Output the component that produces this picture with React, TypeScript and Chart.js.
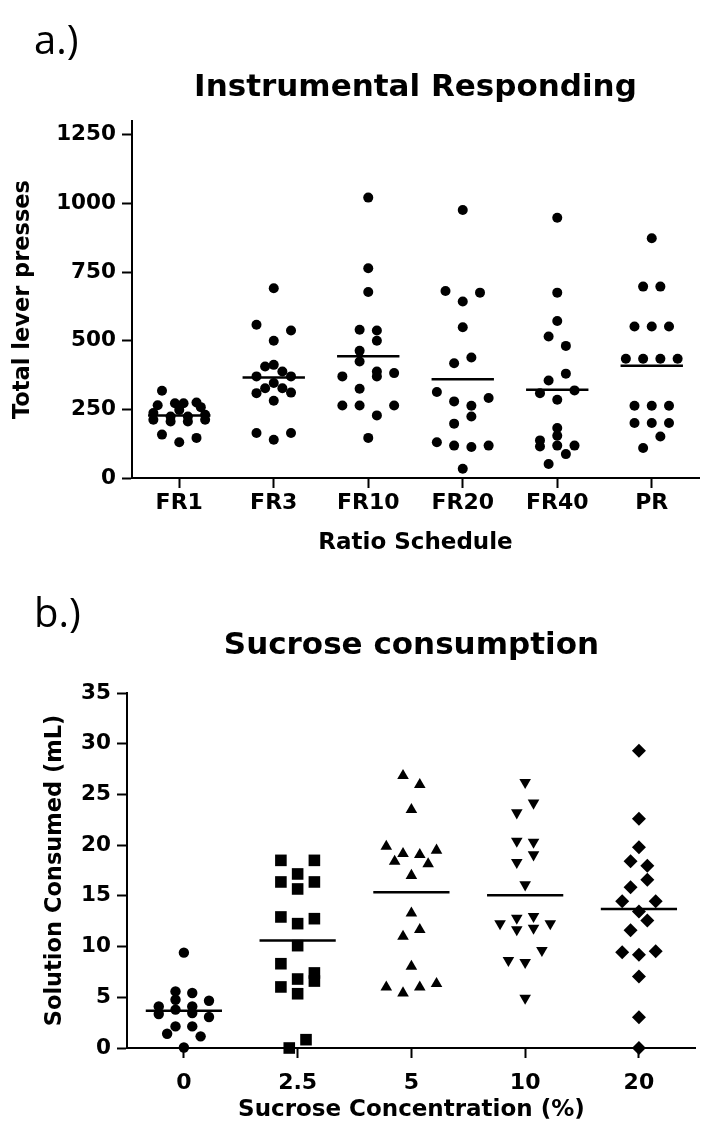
import React, { useEffect, useRef } from "react";
import { Chart, registerables } from "chart.js";

Chart.register(...registerables);

// ---------- Panel a: Instrumental Responding ----------
const scheduleLabels = ["FR1", "FR3", "FR10", "FR20", "FR40", "PR"];
const leverTicks = [0, 250, 500, 750, 1000, 1250];

const fr1 = [318, 265, 272, 272, 275, 258, 237, 248, 230, 224, 224, 212, 206, 206, 212, 158, 146, 130];
const fr3 = [691, 558, 537, 500, 412, 406, 388, 370, 370, 346, 327, 327, 309, 311, 281, 164, 164, 139];
const fr10 = [1021, 764, 677, 540, 537, 500, 463, 424, 388, 370, 382, 370, 325, 264, 264, 264, 228, 146];
const fr20 = [976, 681, 675, 643, 549, 439, 418, 313, 291, 279, 263, 224, 198, 130, 118, 113, 118, 34];
const fr40 = [948, 675, 572, 515, 481, 380, 355, 319, 309, 285, 182, 154, 137, 115, 118, 118, 87, 51];
const prValues = [873, 697, 697, 552, 552, 552, 434, 434, 434, 434, 263, 263, 263, 200, 200, 200, 151, 109];
const leverMeans = [228, 366, 443, 360, 321, 409];

// column slot of each dot within its group (dot-plot spread)
const fr1Slots = [-2, -2.5, -0.5, 0.5, 2, 2.5, -3, 0, 3, -1, 1, -3, -1, 1, 3, -2, 2, 0];
const fr3Slots = [0, -2, 2, 0, 0, -1, 1, -2, 2, 0, -1, 1, -2, 2, 0, -2, 2, 0];
const fr10Slots = [0, 0, 0, -1, 1, 1, -1, -1, 1, 1, 3, -3, -1, -3, -1, 3, 1, 0];
const fr20Slots = [0, -2, 2, 0, 0, 1, -1, -3, 3, -1, 1, 1, -1, -3, -1, 1, 3, 0];
const fr40Slots = [0, 0, 0, -1, 1, 1, -1, 2, -2, 0, 0, 0, -2, -2, 0, 2, 1, -1];
const prSlots = [0, -1, 1, -2, 0, 2, -3, -1, 1, 3, -2, 0, 2, -2, 0, 2, 1, -1];

// ---------- Panel b: Sucrose consumption ----------
const concLabels = ["0", "2.5", "5", "10", "20"];
const mlTicks = [0, 5, 10, 15, 20, 25, 30, 35];

const conc0 = [9.4, 5.58, 5.42, 4.76, 4.66, 4.1, 3.78, 4.1, 3.35, 3.45, 3.06, 2.13, 2.13, 1.41, 1.15, 0.05];
const conc2_5 = [18.5, 18.5, 17.16, 16.37, 16.37, 15.68, 12.92, 12.75, 12.26, 10.09, 8.31, 7.4, 6.6, 6.8, 6.02, 5.35, 0.82, 0.0];
const conc5 = [26.85, 25.97, 23.5, 19.88, 19.16, 19.06, 19.49, 18.4, 18.15, 17.0, 13.3, 11.0, 11.67, 8.05, 6.0, 5.42, 6.0, 6.34];
const conc10 = [26.2, 24.16, 23.2, 20.4, 20.3, 19.06, 18.3, 16.1, 12.26, 12.8, 12.98, 12.26, 11.67, 11.83, 9.63, 8.64, 8.44, 4.93];
const conc20 = [29.3, 22.6, 19.8, 18.4, 17.98, 16.6, 15.84, 14.46, 14.46, 13.47, 12.58, 11.6, 9.43, 9.2, 9.53, 7.06, 3.02, 0.0];
const mlMeans = [3.68, 10.6, 15.35, 15.05, 13.7];

const conc0Slots = [0, -1, 1, -1, 3, -3, -1, 1, -3, 1, 3, -1, 1, -2, 2, 0];
const conc2_5Slots = [-2, 2, 0, -2, 2, 0, -2, 2, 0, 0, -2, 2, 2, 0, -2, 0, 1, -1];
const conc5Slots = [-1, 1, 0, -3, -1, 1, 3, -2, 2, 0, 0, -1, 1, 0, -3, -1, 1, 3];
const conc10Slots = [0, 1, -1, -1, 1, 1, -1, 0, -3, -1, 1, 3, -1, 1, 2, -2, 0, 0];
const conc20Slots = [0, 0, 0, -1, 1, 1, -1, -2, 2, 0, 1, -1, -2, 0, 2, 0, 0, 0];

const FONT = "'DejaVu Sans', sans-serif";
const BLACK = "#000000";

type MarkStyle = { pointStyle: string; radius: number; rotation: number };

function groupDatasets(
  groups: number[][],
  slots: number[][],
  means: number[],
  step: number,
  halfWidth: number,
  marks: MarkStyle[]
) {
  const dots = groups.map((vals, gi) => ({
    type: "scatter" as const,
    data: vals.map((v, k) => ({ x: gi + slots[gi][k] * step, y: v })),
    pointStyle: marks[gi].pointStyle,
    pointRadius: marks[gi].radius,
    rotation: marks[gi].rotation,
    backgroundColor: BLACK,
    borderColor: BLACK,
    borderWidth: 0,
    pointHoverRadius: marks[gi].radius,
    clip: false as const,
    order: 2,
  }));
  const lines = means.map((m, gi) => ({
    type: "scatter" as const,
    data: [
      { x: gi - halfWidth, y: m },
      { x: gi + halfWidth, y: m },
    ],
    showLine: true,
    borderColor: BLACK,
    borderWidth: 2.5,
    pointRadius: 0,
    pointHoverRadius: 0,
    clip: false as const,
    order: 1,
  }));
  return [...dots, ...lines];
}

function axisCommon() {
  return {
    grid: {
      display: true,
      drawOnChartArea: false,
      drawTicks: true,
      tickLength: 10,
      tickWidth: 2,
      color: BLACK,
    },
    border: { display: true, color: BLACK, width: 2 },
  };
}

function makeConfig(opts: {
  labels: string[];
  yTicks: number[];
  yMax: number;
  datasets: any[];
  title: string;
  titlePad: { top: number; bottom: number };
  xTitle: string;
  xTitlePadBottom: number;
  xTickPad: number;
  yTitle: string;
  yTitlePadTop: number;
  yWidth: number;
  xHeight: number;
  padRight: number;
}) {
  const n = opts.labels.length;
  return {
    type: "scatter" as const,
    data: { datasets: opts.datasets },
    options: {
      animation: false as const,
      responsive: false,
      maintainAspectRatio: false,
      events: [],
      layout: { padding: { left: 0, right: opts.padRight, top: 0, bottom: 0 } },
      plugins: {
        legend: { display: false },
        tooltip: { enabled: false },
        title: {
          display: true,
          fullSize: false,
          text: opts.title,
          color: BLACK,
          font: { family: FONT, size: 31, weight: "bold" as const },
          padding: opts.titlePad,
        },
      },
      scales: {
        x: {
          type: "linear" as const,
          min: -0.5,
          max: n - 0.5,
          afterBuildTicks: (s: any) => {
            s.ticks = opts.labels.map((_, i) => ({ value: i }));
          },
          afterFit: (s: any) => {
            s.height = opts.xHeight;
          },
          ticks: {
            autoSkip: false,
            maxRotation: 0,
            padding: opts.xTickPad,
            color: BLACK,
            font: { family: FONT, size: 22, weight: "bold" as const },
            callback: (v: any) => opts.labels[Math.round(Number(v))] ?? "",
          },
          title: {
            display: true,
            text: opts.xTitle,
            color: BLACK,
            font: { family: FONT, size: 23, weight: "bold" as const },
            padding: { top: 0, bottom: opts.xTitlePadBottom },
          },
          ...axisCommon(),
        },
        y: {
          type: "linear" as const,
          min: 0,
          max: opts.yMax,
          afterBuildTicks: (s: any) => {
            s.ticks = opts.yTicks.map((v) => ({ value: v }));
          },
          afterFit: (s: any) => {
            s.width = opts.yWidth;
          },
          ticks: {
            padding: 6,
            color: BLACK,
            font: { family: FONT, size: 21.5, weight: "bold" as const },
            callback: (v: any) => String(v),
          },
          title: {
            display: true,
            text: opts.yTitle,
            color: BLACK,
            font: { family: FONT, size: 22.5, weight: "bold" as const },
            padding: { top: opts.yTitlePadTop, bottom: 0 },
          },
          ...axisCommon(),
        },
      },
    },
  };
}

function ChartCanvas({ config, width, height, top }: { config: any; width: number; height: number; top: number }) {
  const ref = useRef<HTMLCanvasElement | null>(null);
  useEffect(() => {
    if (!ref.current) return;
    const chart = new Chart(ref.current, config);
    return () => chart.destroy();
  }, [config]);
  return (
    <canvas
      ref={ref}
      width={width}
      height={height}
      style={{ position: "absolute", left: 0, top, width, height }}
    />
  );
}

const leverConfig = makeConfig({
  labels: scheduleLabels,
  yTicks: leverTicks,
  yMax: 1300,
  datasets: groupDatasets(
    [fr1, fr3, fr10, fr20, fr40, prValues],
    [fr1Slots, fr3Slots, fr10Slots, fr20Slots, fr40Slots, prSlots],
    leverMeans,
    0.0913,
    0.33,
    scheduleLabels.map(() => ({ pointStyle: "circle", radius: 5, rotation: 0 }))
  ),
  title: "Instrumental Responding",
  titlePad: { top: 69, bottom: 14.8 },
  xTitle: "Ratio Schedule",
  xTitlePadBottom: 23,
  xTickPad: 2,
  yTitle: "Total lever presses",
  yTitlePadTop: 10,
  yWidth: 132,
  xHeight: 102,
  padRight: 0,
});

const sucroseConfig = makeConfig({
  labels: concLabels,
  yTicks: mlTicks,
  yMax: 35,
  datasets: groupDatasets(
    [conc0, conc2_5, conc5, conc10, conc20],
    [conc0Slots, conc2_5Slots, conc5Slots, conc10Slots, conc20Slots],
    mlMeans,
    0.0736,
    0.335,
    [
      { pointStyle: "circle", radius: 5.2, rotation: 0 },
      { pointStyle: "rect", radius: 8.2, rotation: 0 },
      { pointStyle: "triangle", radius: 6.7, rotation: 0 },
      { pointStyle: "triangle", radius: 6.7, rotation: 180 },
      { pointStyle: "rectRot", radius: 7, rotation: 0 },
    ]
  ),
  title: "Sucrose consumption",
  titlePad: { top: 47, bottom: 28.8 },
  xTitle: "Sucrose Concentration (%)",
  xTitlePadBottom: 3,
  xTickPad: 12,
  yTitle: "Solution Consumed (mL)",
  yTitlePadTop: 42,
  yWidth: 127,
  xHeight: 79,
  padRight: 5,
});

const panelLetter: React.CSSProperties = {
  position: "absolute",
  left: 34,
  fontFamily: "'Open Sans', sans-serif",
  fontSize: 40,
  lineHeight: "40px",
  color: BLACK,
  margin: 0,
};

export default function App() {
  return (
    <div
      style={{
        position: "absolute",
        left: 0,
        top: 0,
        width: 704,
        height: 1127,
        background: "#ffffff",
        overflow: "hidden",
      }}
    >
      <ChartCanvas config={leverConfig} width={704} height={580} top={0} />
      <ChartCanvas config={sucroseConfig} width={704} height={547} top={580} />
      <div style={{ ...panelLetter, top: 19 }}>a.)</div>
      <div style={{ ...panelLetter, top: 592 }}>b.)</div>
    </div>
  );
}
